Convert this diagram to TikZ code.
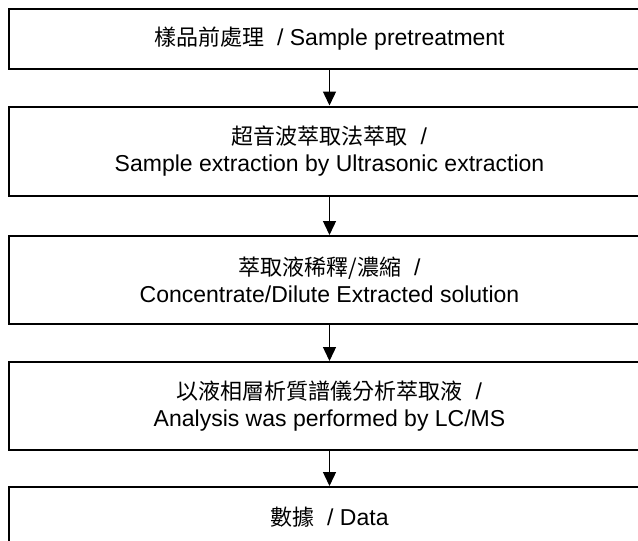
\documentclass[tikz,border=0pt]{standalone}
\usepackage{fontspec}
\setmainfont{Liberation Sans}
\newfontfamily\cjk{Noto Sans CJK TC}
\newcommand{\zhtext}[1]{{\cjk\fontsize{22}{27}\selectfont #1}}
\usetikzlibrary{arrows.meta}

\begin{document}
\begin{tikzpicture}[x=1pt,y=-1pt,
  stepbox/.style={draw=drawColor,line width=2pt,minimum width=641pt,inner sep=0pt,
    align=center,font=\fontsize{23}{27}\selectfont},
  flowarrow/.style={draw=drawColor,line width=1.4pt,-{Triangle[width=13pt,length=14pt]}}]
\definecolor{drawColor}{RGB}{0,0,0}
\path[use as bounding box,fill=white] (0,0) rectangle (638,541);

\node[stepbox,minimum height=60pt] (pretreat) at (329.5, 38.5) {\zhtext{樣品前處理}\ \ / Sample pretreatment};

\node[stepbox,minimum height=89pt] (extract) at (329.5,151.0) {\zhtext{超音波萃取法萃取}\ \ /\\Sample extraction by Ultrasonic extraction};

\node[stepbox,minimum height=88pt] (dilute) at (329.5,280.0) {\zhtext{萃取液稀釋/濃縮}\ \ /\\Concentrate/Dilute Extracted solution};

\node[stepbox,minimum height=88pt] (analysis) at (329.5,406.0) {\zhtext{以液相層析質譜儀分析萃取液}\ \ /\\Analysis was performed by LC/MS};

\node[stepbox,minimum height=60pt] (data) at (329.5,517.0) {\zhtext{數據}\ \ / Data};

\draw[flowarrow] (pretreat) -- (extract);
\draw[flowarrow] (extract) -- (dilute);
\draw[flowarrow] (dilute) -- (analysis);
\draw[flowarrow] (analysis) -- (data);
\end{tikzpicture}
\end{document}
